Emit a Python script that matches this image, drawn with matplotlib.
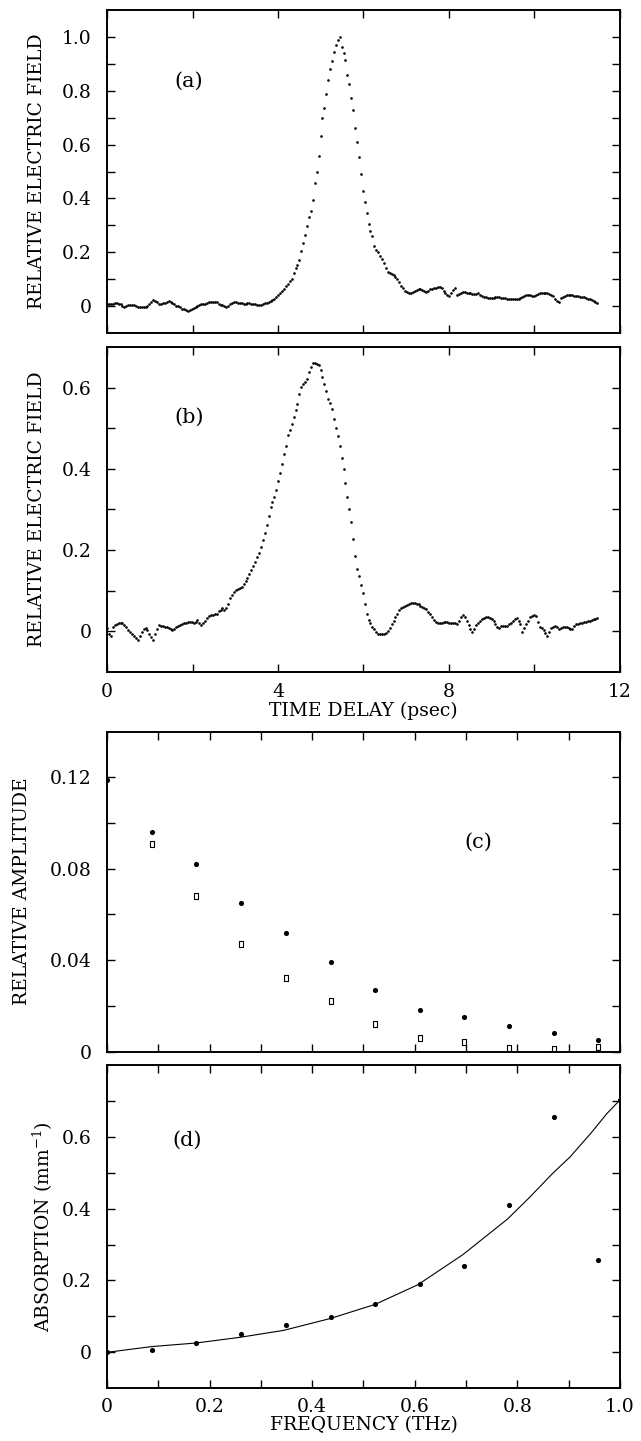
import matplotlib
matplotlib.use("Agg")
import matplotlib.pyplot as plt
import numpy as np

plt.rcParams['font.family'] = ['DejaVu Serif']
plt.rcParams['mathtext.fontset'] = 'dejavuserif'

## (a) reference pulse, 256 samples, 0.045 psec apart
field_a = [
    0.008, 0.007, 0.006, 0.008, 0.011, 0.011, 0.009, 0.006, 0.001, -0.004, 0.000, 0.004, 0.005, 0.004, 0.003, 0.001,
    -0.002, -0.004, -0.005, -0.004, -0.004, 0.002, 0.007, 0.016, 0.022, 0.019, 0.014, 0.007, 0.008, 0.010, 0.012, 0.015,
    0.018, 0.014, 0.010, 0.006, 0.002, -0.001, -0.005, -0.009, -0.012, -0.015, -0.018, -0.015, -0.011, -0.008, -0.004, -0.001,
    0.003, 0.006, 0.007, 0.008, 0.011, 0.014, 0.016, 0.017, 0.016, 0.014, 0.008, 0.005, 0.004, 0.002, -0.002, 0.002,
    0.007, 0.010, 0.014, 0.015, 0.013, 0.012, 0.010, 0.008, 0.009, 0.010, 0.010, 0.009, 0.008, 0.007, 0.005, 0.003,
    0.005, 0.008, 0.010, 0.012, 0.014, 0.018, 0.022, 0.026, 0.033, 0.041, 0.050, 0.057, 0.065, 0.075, 0.083, 0.093,
    0.102, 0.122, 0.140, 0.153, 0.170, 0.205, 0.236, 0.266, 0.298, 0.331, 0.355, 0.396, 0.456, 0.500, 0.558, 0.632,
    0.700, 0.736, 0.789, 0.840, 0.881, 0.911, 0.943, 0.970, 0.988, 1.000, 0.964, 0.942, 0.915, 0.860, 0.824, 0.772,
    0.727, 0.660, 0.611, 0.555, 0.492, 0.428, 0.386, 0.345, 0.305, 0.280, 0.260, 0.224, 0.210, 0.200, 0.187, 0.174,
    0.160, 0.142, 0.128, 0.122, 0.118, 0.115, 0.109, 0.101, 0.090, 0.075, 0.066, 0.057, 0.052, 0.050, 0.050, 0.052,
    0.056, 0.060, 0.062, 0.064, 0.058, 0.055, 0.053, 0.057, 0.062, 0.064, 0.066, 0.069, 0.072, 0.070, 0.066, 0.055,
    0.049, 0.043, 0.037, 0.047, 0.060, 0.068, 0.042, 0.044, 0.048, 0.051, 0.052, 0.050, 0.049, 0.048, 0.046, 0.045,
    0.046, 0.047, 0.043, 0.038, 0.035, 0.032, 0.030, 0.030, 0.030, 0.030, 0.032, 0.033, 0.032, 0.031, 0.030, 0.029,
    0.028, 0.027, 0.026, 0.027, 0.028, 0.027, 0.026, 0.029, 0.032, 0.036, 0.041, 0.042, 0.040, 0.037, 0.038, 0.042,
    0.046, 0.048, 0.049, 0.050, 0.050, 0.048, 0.045, 0.043, 0.036, 0.027, 0.018, 0.016, 0.030, 0.035, 0.038, 0.040,
    0.042, 0.042, 0.040, 0.038, 0.037, 0.036, 0.035, 0.034, 0.033, 0.031, 0.028, 0.025, 0.022, 0.019, 0.016, 0.013,
]

## (b) transmitted pulse
field_b = [
    0.008, -0.008, -0.012, 0.010, 0.015, 0.018, 0.020, 0.021, 0.019, 0.016, 0.009, 0.003, -0.002, -0.007, -0.012, -0.018,
    -0.021, -0.011, -0.003, 0.004, 0.008, 0.002, -0.008, -0.015, -0.021, -0.008, 0.005, 0.014, 0.013, 0.012, 0.010, 0.009,
    0.007, 0.004, 0.002, 0.005, 0.009, 0.013, 0.016, 0.018, 0.019, 0.021, 0.022, 0.023, 0.022, 0.019, 0.023, 0.027,
    0.020, 0.014, 0.019, 0.025, 0.032, 0.037, 0.039, 0.040, 0.041, 0.043, 0.049, 0.052, 0.056, 0.052, 0.056, 0.066,
    0.082, 0.090, 0.096, 0.101, 0.105, 0.107, 0.110, 0.117, 0.124, 0.130, 0.140, 0.151, 0.160, 0.171, 0.183, 0.193,
    0.207, 0.224, 0.241, 0.261, 0.284, 0.305, 0.318, 0.330, 0.349, 0.369, 0.391, 0.411, 0.436, 0.457, 0.484, 0.495,
    0.512, 0.528, 0.545, 0.559, 0.585, 0.603, 0.609, 0.614, 0.623, 0.640, 0.651, 0.662, 0.661, 0.658, 0.656, 0.645,
    0.627, 0.610, 0.591, 0.572, 0.563, 0.547, 0.524, 0.502, 0.481, 0.456, 0.427, 0.399, 0.365, 0.330, 0.301, 0.268,
    0.228, 0.186, 0.153, 0.136, 0.114, 0.095, 0.068, 0.042, 0.028, 0.019, 0.011, 0.004, -0.003, -0.006, -0.007, -0.008,
    -0.007, -0.005, 0.000, 0.007, 0.017, 0.026, 0.035, 0.043, 0.051, 0.056, 0.059, 0.062, 0.065, 0.067, 0.069, 0.070,
    0.069, 0.068, 0.066, 0.063, 0.060, 0.057, 0.054, 0.048, 0.041, 0.034, 0.028, 0.023, 0.021, 0.021, 0.021, 0.022,
    0.023, 0.022, 0.019, 0.019, 0.021, 0.019, 0.018, 0.026, 0.034, 0.040, 0.034, 0.025, 0.015, 0.006, -0.003, 0.005,
    0.014, 0.020, 0.025, 0.029, 0.033, 0.034, 0.034, 0.032, 0.029, 0.024, 0.017, 0.009, 0.008, 0.012, 0.012, 0.012,
    0.013, 0.017, 0.021, 0.025, 0.029, 0.033, 0.025, 0.017, -0.002, 0.008, 0.018, 0.026, 0.034, 0.038, 0.040, 0.038,
    0.022, 0.011, 0.007, 0.003, -0.004, -0.011, -0.002, 0.007, 0.010, 0.012, 0.009, 0.005, 0.007, 0.011, 0.011, 0.009,
    0.007, 0.005, 0.004, 0.012, 0.017, 0.018, 0.020, 0.021, 0.022, 0.023, 0.025, 0.026, 0.027, 0.029, 0.031, 0.033,
]

delay = np.arange(len(field_a)) * 0.045

## (c) spectral amplitudes
freq_ref = [0.0, 0.087, 0.174, 0.261, 0.348, 0.436, 0.523, 0.610, 0.697, 0.784, 0.871, 0.958]
amp_ref = [0.119, 0.096, 0.082, 0.065, 0.052, 0.039, 0.027, 0.018, 0.015, 0.011, 0.008, 0.005]
freq_smp = [0.087, 0.174, 0.261, 0.348, 0.436, 0.523, 0.610, 0.697, 0.784, 0.871, 0.958]
amp_smp = [0.091, 0.068, 0.047, 0.032, 0.022, 0.012, 0.006, 0.004, 0.0016, 0.0012, 0.002]

## (d) absorption
freq_abs = [0.0, 0.087, 0.174, 0.261, 0.348, 0.436, 0.523, 0.610, 0.697, 0.784, 0.871, 0.958, 1.0]
absorb = [0.0, 0.007, 0.027, 0.050, 0.076, 0.097, 0.134, 0.190, 0.239, 0.410, 0.656, 0.256, 0.703]
fit_freq = [0.0, 0.087, 0.174, 0.260, 0.344, 0.435, 0.522, 0.606, 0.694, 0.781, 0.823, 0.869, 0.903, 0.943, 0.975, 1.0]
fit_absorb = [0.0, 0.016, 0.026, 0.042, 0.061, 0.094, 0.133, 0.188, 0.272, 0.371, 0.430, 0.498, 0.544, 0.609, 0.665, 0.702]

fig = plt.figure(figsize=(6.41, 14.41), dpi=100)
L, W = 0.167, 0.800
ax_a = fig.add_axes([L, 0.7689, W, 0.2241])
ax_b = fig.add_axes([L, 0.5339, W, 0.2251])
ax_c = fig.add_axes([L, 0.2702, W, 0.2221])
ax_d = fig.add_axes([L, 0.0366, W, 0.2244])

fs = 13.5

def style(ax):
    for s in ax.spines.values():
        s.set_linewidth(1.4)
    ax.tick_params(direction='in', top=True, right=True, length=6, width=1,
                   labelsize=fs, pad=11)

def ylabels(vals, every, fmt):
    out = []
    for i, v in enumerate(vals):
        if i % every == 0:
            out.append('0' if abs(v) < 1e-9 else fmt % v)
        else:
            out.append('')
    return out

# (a)
ax_a.plot(delay, field_a, 'k.', ms=3.8, mew=0)
ax_a.set_xlim(0, 12)
ax_a.set_ylim(-0.1, 1.1)
ax_a.set_xticks([0, 2, 4, 6, 8, 10, 12])
ax_a.set_xticklabels([])
yt = [0, 0.1, 0.2, 0.3, 0.4, 0.5, 0.6, 0.7, 0.8, 0.9, 1.0]
ax_a.set_yticks(yt)
ax_a.set_yticklabels(ylabels(yt, 2, '%.1f'))
ax_a.set_ylabel('RELATIVE ELECTRIC FIELD', fontsize=fs, va='center')
ax_a.yaxis.set_label_coords(-0.137, 0.5)
ax_a.text(1.9, 0.835, '(a)', fontsize=15, ha='center', va='center')
style(ax_a)

# (b)
ax_b.plot(delay, field_b, 'k.', ms=3.8, mew=0)
ax_b.set_xlim(0, 12)
ax_b.set_ylim(-0.1, 0.7)
ax_b.set_xticks([0, 2, 4, 6, 8, 10, 12])
ax_b.set_xticklabels(['0', '', '4', '', '8', '', '12'])
yt = [0, 0.1, 0.2, 0.3, 0.4, 0.5, 0.6]
ax_b.set_yticks(yt)
ax_b.set_yticklabels(ylabels(yt, 2, '%.1f'))
ax_b.set_ylabel('RELATIVE ELECTRIC FIELD', fontsize=fs, va='center')
ax_b.yaxis.set_label_coords(-0.137, 0.5)
ax_b.set_xlabel('TIME DELAY (psec)', fontsize=fs, labelpad=1)
ax_b.text(1.93, 0.528, '(b)', fontsize=15, ha='center', va='center')
style(ax_b)
ax_b.tick_params(axis='x', pad=8)

# (c)
box = [(-0.33, -0.5), (0.33, -0.5), (0.33, 0.5), (-0.33, 0.5), (-0.33, -0.5)]
ax_c.plot(freq_ref, amp_ref, 'ko', ms=3.7, mew=0)
ax_c.plot(freq_smp, amp_smp, ls='none', marker=box, ms=4.7, mfc='white', mec='k', mew=0.8)
ax_c.set_xlim(0, 1.0)
ax_c.set_ylim(0, 0.14)
ax_c.set_xticks(np.round(np.arange(0, 1.01, 0.1), 1))
ax_c.set_xticklabels([])
yt = [0, 0.02, 0.04, 0.06, 0.08, 0.10, 0.12]
ax_c.set_yticks(yt)
ax_c.set_yticklabels(ylabels(yt, 2, '%.2f'))
ax_c.set_ylabel('RELATIVE AMPLITUDE', fontsize=fs, va='center')
ax_c.yaxis.set_label_coords(-0.165, 0.5)
ax_c.text(0.724, 0.0915, '(c)', fontsize=15, ha='center', va='center')
style(ax_c)

# (d)
ax_d.plot(fit_freq, fit_absorb, 'k-', lw=0.8)
ax_d.plot(freq_abs, absorb, 'ko', ms=3.7, mew=0)
ax_d.set_xlim(0, 1.0)
ax_d.set_ylim(-0.1, 0.8)
ax_d.set_xticks(np.round(np.arange(0, 1.01, 0.1), 1))
ax_d.set_xticklabels(['0', '', '0.2', '', '0.4', '', '0.6', '', '0.8', '', '1.0'])
yt = [0, 0.1, 0.2, 0.3, 0.4, 0.5, 0.6, 0.7]
ax_d.set_yticks(yt)
ax_d.set_yticklabels(ylabels(yt, 2, '%.1f'))
ax_d.set_ylabel(r'ABSORPTION (mm$^{-1}$)', fontsize=fs, va='center')
ax_d.yaxis.set_label_coords(-0.125, 0.5)
ax_d.set_xlabel('FREQUENCY (THz)', fontsize=fs, labelpad=0)
ax_d.text(0.157, 0.59, '(d)', fontsize=15, ha='center', va='center')
style(ax_d)
ax_d.tick_params(axis='x', pad=7)

fig.savefig('out.png', dpi=100)
